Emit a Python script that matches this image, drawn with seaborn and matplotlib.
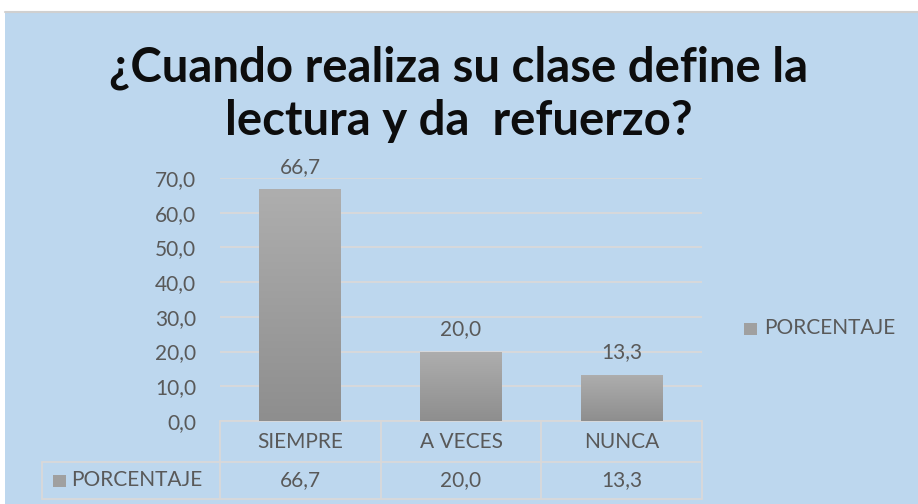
import matplotlib.pyplot as plt
import matplotlib.transforms as mtransforms
from matplotlib.colors import LinearSegmentedColormap
from matplotlib.patches import Rectangle
import numpy as np
import pandas as pd
import seaborn as sns

# --- data ---
categorias = ["SIEMPRE", "A VECES", "NUNCA"]
porcentaje = [66.7, 20.0, 13.3]
serie = "PORCENTAJE"
titulo = "¿Cuando realiza su clase define la\nlectura y da  refuerzo?"
y_ticks = [0, 10, 20, 30, 40, 50, 60, 70]

df = pd.DataFrame({"categoria": categorias, "valor": porcentaje})

fondo = "#BDD7EE"
gris_txt = "#595959"
linea = "#D9D9D9"
fs = 15

sns.set_style("white")
plt.rcParams["font.family"] = ["Lato", "DejaVu Sans"]

fig = plt.figure(figsize=(9.18, 5.04), dpi=100)
fig.patch.set_facecolor(fondo)

# white strips at top and left, thin gray border
fig.patches.append(Rectangle((0, 1 - 12 / 504), 1, 12 / 504, transform=fig.transFigure,
                             facecolor="white", edgecolor="none", zorder=-5))
fig.patches.append(Rectangle((0, 0), 5 / 918, 1, transform=fig.transFigure,
                             facecolor="white", edgecolor="none", zorder=-5))
fig.lines.append(plt.Line2D([5 / 918, 1], [1 - 12 / 504, 1 - 12 / 504],
                            transform=fig.transFigure, color="#D0D0D0", lw=1.5))

ax = fig.add_axes([220 / 918, 1 - 421 / 504, 482 / 918, 243 / 504])
ax.set_facecolor("none")

sns.barplot(data=df, x="categoria", y="valor", color="#A0A0A0", width=0.51,
            ax=ax, zorder=3)

# vertical gradient on bars
grad = np.linspace(0, 1, 256).reshape(-1, 1)
cmap = LinearSegmentedColormap.from_list("g", ["#8E8E8E", "#AEAEAE"])
for p in ax.patches:
    x0, y0 = p.get_x(), p.get_y()
    w, h = p.get_width(), p.get_height()
    im = ax.imshow(grad, extent=[x0, x0 + w, y0, y0 + h], origin="lower",
                   cmap=cmap, aspect="auto", zorder=4)
    im.set_clip_path(p)
    p.set_facecolor("none")
    p.set_edgecolor("none")

ax.set_xlim(-0.5, 2.5)
ax.set_ylim(0, 70)
ax.set_yticks(y_ticks)
ax.set_yticklabels([f"{v:.1f}".replace(".", ",") for v in y_ticks],
                   color=gris_txt, fontsize=fs)
ax.tick_params(axis="y", length=0, pad=17)
ax.set_xticks([])
ax.set_xlabel("")
ax.set_ylabel("")
for s in ax.spines.values():
    s.set_visible(False)
ax.yaxis.grid(True, color=linea, lw=1.3, zorder=1)
ax.set_axisbelow(True)

# value labels
for i, v in enumerate(porcentaje):
    ax.annotate(f"{v:.1f}".replace(".", ","), (i, v), xytext=(0, 9),
                textcoords="offset points", ha="center", va="bottom",
                color=gris_txt, fontsize=fs, annotation_clip=False)

# title
fig.text(0.5, 1 - 94 / 504, titulo, ha="center", va="center", fontsize=34,
         fontweight="bold", color="#0D0D0D", linespacing=1.25)

# legend on right
fig.patches.append(Rectangle((744 / 918, 1 - 335 / 504), 13 / 918, 12 / 504,
                             transform=fig.transFigure, facecolor="#A0A0A0",
                             edgecolor="none"))
fig.text(764 / 918, 1 - 328 / 504, serie, ha="left", va="center",
         fontsize=fs, color=gris_txt)

# data table under the axis
tr = mtransforms.blended_transform_factory(ax.transData, fig.transFigure)
y_top = 1 - 421 / 504
y_mid = 1 - 462 / 504
y_bot = 1 - 499 / 504
kw = dict(color=linea, lw=1.3, clip_on=False)
ax.plot([-0.5, 2.5], [y_top, y_top], transform=tr, **kw)
for xb in [-0.5, 0.5, 1.5, 2.5]:
    ax.plot([xb, xb], [y_top, y_bot], transform=tr, **kw)
ax.plot([-0.5, 2.5], [y_bot, y_bot], transform=tr, **kw)
ax.plot([-0.5, 2.5], [y_mid, y_mid], transform=tr, **kw)
fig.lines.append(plt.Line2D([42 / 918, 220 / 918], [y_mid, y_mid],
                            transform=fig.transFigure, **kw))
fig.lines.append(plt.Line2D([42 / 918, 220 / 918], [y_bot, y_bot],
                            transform=fig.transFigure, **kw))
fig.lines.append(plt.Line2D([42 / 918, 42 / 918], [y_mid, y_bot],
                            transform=fig.transFigure, **kw))

for i, (c, v) in enumerate(zip(categorias, porcentaje)):
    ax.text(i, (y_top + y_mid) / 2, c, transform=tr, ha="center", va="center",
            fontsize=fs, color=gris_txt)
    ax.text(i, (y_mid + y_bot) / 2, f"{v:.1f}".replace(".", ","), transform=tr,
            ha="center", va="center", fontsize=fs, color=gris_txt)

fig.patches.append(Rectangle((53 / 918, (y_mid + y_bot) / 2 - 6.5 / 504), 13 / 918,
                             12 / 504, transform=fig.transFigure,
                             facecolor="#A0A0A0", edgecolor="none"))
fig.text(71 / 918, (y_mid + y_bot) / 2, serie, ha="left", va="center",
         fontsize=fs, color=gris_txt)

fig.savefig("out.png", dpi=100, facecolor=fondo)
